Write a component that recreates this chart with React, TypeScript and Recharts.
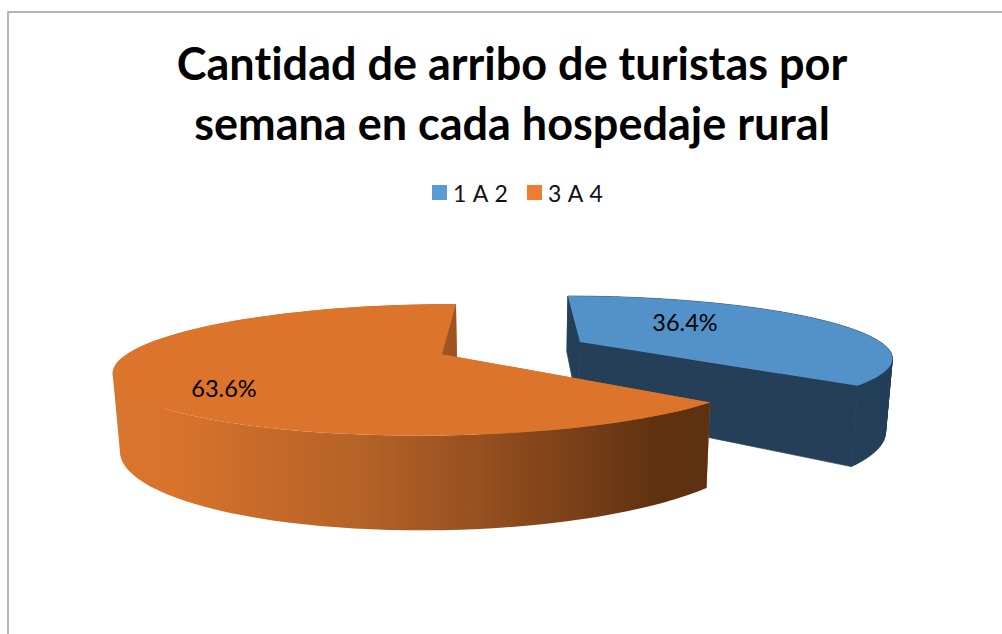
import { PieChart, Pie, Legend } from "recharts";

const categories = ["1 A 2", "3 A 4"];
const shares = [36.4, 63.6];
const titleLines = ["Cantidad de arribo de turistas por", "semana en cada hospedaje rural"];

const legendColors = ["#5b9bd5", "#ed7d31"];
const topColors = ["#5391c9", "#dc742c"];
const wallColors = ["#243f57", "url(#orangeWall)"];
const sideColors = ["#243f57", "#c96d28"];
const labelSpots = [
  { x: 685, y: 322 },
  { x: 224, y: 388 },
];

const data = categories.map((name, i) => ({ name, value: shares[i] }));

// perspective of the 3D pie, radius = 1 in world units
const DEPTH = 4.31;
const FOCAL = 5.2;
const EXPLODE = 0.246;
const DROP = 1.192; // extra height of the bottom rim, in radii
const INWARD = 0.982; // walls lean in towards the bottom
const SHIFT = -0.008;
const RAD = Math.PI / 180;

type Pt = { x: number; y: number };

function project(props: any, angle: number, r: number, bottom: boolean): Pt {
  const { cx, cy, outerRadius: R, midAngle } = props;
  const X = SHIFT + EXPLODE * Math.cos(midAngle * RAD) + r * Math.cos(angle * RAD);
  const w = DEPTH + EXPLODE * Math.sin(midAngle * RAD) + r * Math.sin(angle * RAD);
  const k = bottom ? INWARD : 1;
  return {
    x: cx + (k * FOCAL * R * X) / w,
    y: cy - R + (R * (DEPTH + (bottom ? DROP : 0))) / w,
  };
}

function toPath(points: Pt[]) {
  return "M" + points.map((p) => `${p.x.toFixed(2)},${p.y.toFixed(2)}`).join("L") + "Z";
}

function rim(props: any, bottom: boolean) {
  const { startAngle, endAngle } = props;
  const steps = 90;
  const out: Pt[] = [];
  for (let i = 0; i <= steps; i++) {
    out.push(project(props, startAngle + ((endAngle - startAngle) * i) / steps, 1, bottom));
  }
  return out;
}

function radialWall(props: any, angle: number) {
  return toPath([
    project(props, 0, 0, false),
    project(props, angle, 1, false),
    project(props, angle, 1, true),
    project(props, 0, 0, true),
  ]);
}

// the wall outline crosses itself at the sides, so build it from quads of one winding
function outerWall(top: Pt[], bottom: Pt[]) {
  let d = "";
  for (let i = 0; i < top.length - 1; i++) {
    const quad = [top[i], top[i + 1], bottom[i + 1], bottom[i]];
    let area = 0;
    quad.forEach((p, j) => {
      const q = quad[(j + 1) % 4];
      area += p.x * q.y - q.x * p.y;
    });
    d += toPath(area < 0 ? quad.reverse() : quad);
  }
  return d;
}

function Slice3D(props: any) {
  const { index, startAngle, endAngle } = props;
  const top = rim(props, false);
  const bottom = rim(props, true);
  // same colour stroke on the flat blue walls hides the seams between them
  const seam = index === 0 ? sideColors[0] : "none";
  return (
    <g>
      <path d={radialWall(props, startAngle)} fill={sideColors[index]} stroke={seam} strokeWidth={0.7} />
      <path d={radialWall(props, endAngle)} fill={sideColors[index]} stroke={seam} strokeWidth={0.7} />
      <path d={outerWall(top, bottom)} fill={wallColors[index]} stroke={seam} strokeWidth={0.7} />
      <path d={toPath([project(props, 0, 0, false), ...top])} fill={topColors[index]} />
    </g>
  );
}

function renderLabel(props: any) {
  const spot = labelSpots[props.index];
  return (
    <text
      x={spot.x}
      y={spot.y}
      textAnchor="middle"
      dominantBaseline="central"
      fontFamily="Lato, sans-serif"
      fontSize={23.5}
      fill="#000"
    >
      {`${props.value.toFixed(1)}%`}
    </text>
  );
}

function renderLegend() {
  return (
    <div style={{ position: "relative", height: 30, fontFamily: "Lato, sans-serif", fontSize: 23, color: "#111" }}>
      {categories.map((c, i) => (
        <div key={c}>
          <span
            style={{
              position: "absolute",
              left: i === 0 ? 432 : 527,
              top: 3,
              width: 15,
              height: 15,
              background: legendColors[i],
            }}
          />
          <span style={{ position: "absolute", left: i === 0 ? 453 : 548, top: -3, letterSpacing: 0.6, whiteSpace: "pre" }}>
            {c}
          </span>
        </div>
      ))}
    </div>
  );
}

export default function App() {
  return (
    <div style={{ position: "absolute", left: 0, top: 0, width: 1002, height: 634, background: "#fff" }}>
      <PieChart width={1002} height={634} margin={{ top: 0, right: 0, bottom: 0, left: 0 }}>
        <defs>
          <linearGradient id="orangeWall" gradientUnits="userSpaceOnUse" x1={114} y1={0} x2={709} y2={0}>
            <stop offset="0" stopColor="#d9752e" />
            <stop offset="0.1" stopColor="#d9732c" />
            <stop offset="0.24" stopColor="#c76b2a" />
            <stop offset="0.42" stopColor="#b46227" />
            <stop offset="0.62" stopColor="#964f20" />
            <stop offset="0.82" stopColor="#713b16" />
            <stop offset="0.92" stopColor="#5f3110" />
            <stop offset="1" stopColor="#5e3110" />
          </linearGradient>
        </defs>
        <rect x={8} y={12} width={1200} height={800} fill="none" stroke="#a3a3a3" strokeWidth={1.6} />
        {titleLines.map((line, i) => (
          <text
            key={line}
            x={512}
            y={80 + i * 60}
            textAnchor="middle"
            fontFamily="Lato, sans-serif"
            fontWeight={700}
            fontSize={45}
            style={{ fontVariantLigatures: "none" }}
            fill="#000"
          >
            {line}
          </text>
        ))}
        <Legend
          content={renderLegend}
          wrapperStyle={{ position: "absolute", left: 0, top: 182, width: 1002, height: 30 }}
        />
        <Pie
          data={data}
          dataKey="value"
          nameKey="name"
          cx={515}
          cy={348}
          outerRadius={255}
          startAngle={90}
          endAngle={-270}
          stroke="none"
          shape={Slice3D}
          label={renderLabel}
          labelLine={false}
          isAnimationActive={false}
        />
      </PieChart>
    </div>
  );
}
